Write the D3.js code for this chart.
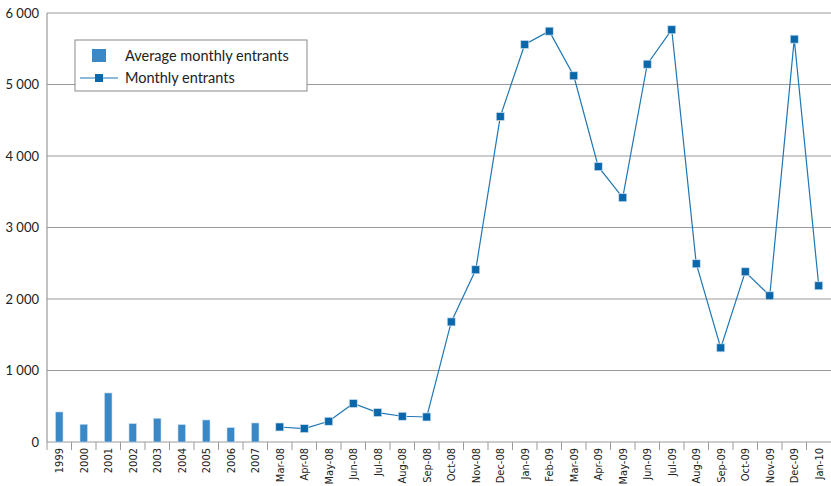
<!DOCTYPE html>
<html>
<head>
<meta charset="utf-8">
<script src="https://cdn.jsdelivr.net/npm/d3@7"></script>
<style>
  body { margin: 0; background: #fff; }
  text { font-family: Lato, "Open Sans", sans-serif; fill: #222; }
  text.xlab { font-family: "DejaVu Sans", sans-serif; font-stretch: condensed; }
</style>
</head>
<body>
<div id="chart"></div>
<script>
// yearly averages (bars)
var years = ['1999', '2000', '2001', '2002', '2003', '2004', '2005', '2006', '2007'];
var yearValues = [420, 248, 686, 257, 332, 243, 308, 201, 266];

// monthly entrants (line)
var months = ['Mar-08', 'Apr-08', 'May-08', 'Jun-08', 'Jul-08', 'Aug-08', 'Sep-08', 'Oct-08',
  'Nov-08', 'Dec-08', 'Jan-09', 'Feb-09', 'Mar-09', 'Apr-09', 'May-09', 'Jun-09', 'Jul-09',
  'Aug-09', 'Sep-09', 'Oct-09', 'Nov-09', 'Dec-09', 'Jan-10'];
var monthValues = [210, 187, 290, 538, 412, 360, 350, 1680, 2409, 4552, 5560, 5746, 5122,
  3851, 3417, 5284, 5766, 2493, 1317, 2381, 2045, 5634, 2185];

var yTicks = [0, 1000, 2000, 3000, 4000, 5000, 6000];

var W = 831, H = 486;
var margin = {top: 13, right: 0, bottom: 44, left: 47};
var w = W - margin.left - margin.right;
var h = H - margin.top - margin.bottom;

var svg = d3.select('#chart').append('svg')
  .attr('width', W)
  .attr('height', H);

var g = svg.append('g')
  .attr('transform', 'translate(' + margin.left + ',' + margin.top + ')');

var x = d3.scaleBand()
  .domain(years.concat(months))
  .range([0, w]);

var y = d3.scaleLinear()
  .domain([0, 6000])
  .range([h, 0]);

var fmt = function(d) { return d3.format(',')(d).replace(',', ' '); };

// gridlines
g.selectAll('.grid').data(yTicks.slice(1)).enter().append('line')
  .attr('x1', 0).attr('x2', w)
  .attr('y1', function(d) { return y(d); })
  .attr('y2', function(d) { return y(d); })
  .attr('stroke', '#9a9a9a')
  .attr('stroke-width', 1.2);

// y labels
g.selectAll('.ylab').data(yTicks).enter().append('text')
  .attr('x', -8)
  .attr('y', function(d) { return y(d); })
  .attr('dy', '0.35em')
  .attr('text-anchor', 'end')
  .attr('font-size', 13)
  .text(fmt);

// axis lines
g.append('line').attr('x1', 0).attr('x2', 0).attr('y1', 0).attr('y2', h)
  .attr('stroke', '#9a9a9a').attr('stroke-width', 1.2);

var xAxis = g.append('g')
  .attr('transform', 'translate(0,' + h + ')');

xAxis.append('line').attr('x1', 0).attr('x2', w)
  .attr('stroke', '#9a9a9a').attr('stroke-width', 1.2);

// tick separators between categories
xAxis.selectAll('.sep').data(x.domain()).enter().append('line')
  .attr('x1', function(d) { return x(d); })
  .attr('x2', function(d) { return x(d); })
  .attr('y1', 0).attr('y2', 8)
  .attr('stroke', '#9a9a9a');

xAxis.selectAll('.xlab').data(x.domain()).enter().append('text')
  .attr('class', 'xlab')
  .attr('transform', function(d) {
    return 'translate(' + (x(d) + x.bandwidth() / 2) + ',6) rotate(-90)';
  })
  .attr('dy', '0.35em')
  .attr('text-anchor', 'end')
  .attr('font-size', 11)
  .text(function(d) { return d; });

// bars
var barW = 7.5;
g.selectAll('.bar').data(years).enter().append('rect')
  .attr('x', function(d) { return x(d) + x.bandwidth() / 2 - barW / 2; })
  .attr('y', function(d, i) { return y(yearValues[i]); })
  .attr('width', barW)
  .attr('height', function(d, i) { return h - y(yearValues[i]); })
  .attr('fill', '#3a88c5')
  .attr('stroke', '#c8def0')
  .attr('stroke-width', 0.6);

// line
var line = d3.line()
  .x(function(d) { return x(d) + x.bandwidth() / 2; })
  .y(function(d, i) { return y(monthValues[i]); });

g.append('path')
  .datum(months)
  .attr('d', line)
  .attr('fill', 'none')
  .attr('stroke', '#1f77b4')
  .attr('stroke-width', 1.2);

var ms = 8;
g.selectAll('.pt').data(months).enter().append('rect')
  .attr('x', function(d) { return x(d) + x.bandwidth() / 2 - ms / 2; })
  .attr('y', function(d, i) { return y(monthValues[i]) - ms / 2; })
  .attr('width', ms)
  .attr('height', ms)
  .attr('fill', '#0a67aa')
  .attr('stroke', '#cfe0ef')
  .attr('stroke-width', 0.7);

// legend
var lg = svg.append('g').attr('transform', 'translate(75,40)');
lg.append('rect')
  .attr('width', 232).attr('height', 51)
  .attr('fill', '#fff')
  .attr('stroke', '#8a8a8a');
lg.append('rect')
  .attr('x', 17).attr('y', 9).attr('width', 14).attr('height', 13)
  .attr('fill', '#3a88c5');
lg.append('line')
  .attr('x1', 5).attr('x2', 43).attr('y1', 38).attr('y2', 38)
  .attr('stroke', '#1f77b4').attr('stroke-width', 1.2);
lg.append('rect')
  .attr('x', 20).attr('y', 34).attr('width', 8).attr('height', 8)
  .attr('fill', '#0a67aa');
lg.append('text').attr('x', 50).attr('y', 16).attr('dy', '0.35em')
  .attr('font-size', 14.5).text('Average monthly entrants');
lg.append('text').attr('x', 50).attr('y', 38).attr('dy', '0.35em')
  .attr('font-size', 14.5).text('Monthly entrants');
</script>
</body>
</html>
